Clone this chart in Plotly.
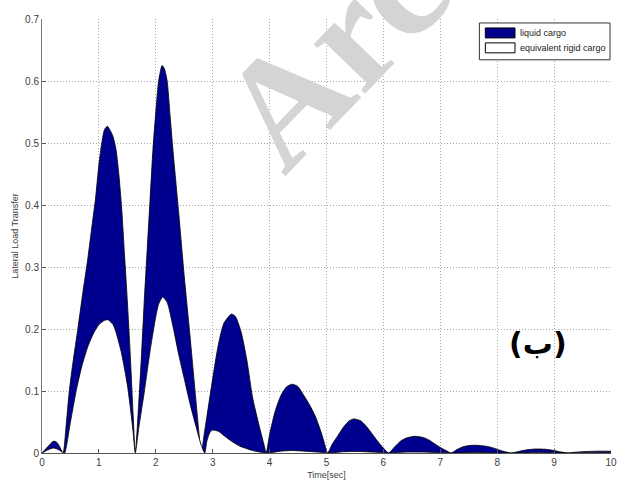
import plotly.graph_objects as go

# Lateral load transfer time histories (values per sample time, seconds)
t_liquid = [0.0, 0.1, 0.2, 0.25, 0.3, 0.37,
            0.42, 0.48, 0.55, 0.63, 0.72, 0.80, 0.87, 0.94, 1.0, 1.05, 1.1, 1.15,
            1.2, 1.25, 1.3, 1.35, 1.4, 1.45, 1.5, 1.55, 1.6, 1.64,
            1.7, 1.75, 1.8, 1.85, 1.9, 1.95, 2.0, 2.05, 2.11, 2.15, 2.2, 2.25,
            2.3, 2.4, 2.5, 2.6, 2.7, 2.75, 2.80,
            2.85, 2.9, 3.0, 3.1, 3.2, 3.33, 3.4, 3.5, 3.6, 3.7, 3.8, 3.9, 3.94,
            4.0, 4.1, 4.2, 4.3, 4.4, 4.5, 4.6, 4.7, 4.8, 4.9, 4.95, 5.02,
            5.1, 5.2, 5.3, 5.4, 5.48, 5.6, 5.7, 5.8, 5.9, 6.0, 6.09,
            6.2, 6.3, 6.4, 6.55, 6.7, 6.8, 6.9, 7.0, 7.1, 7.19,
            7.3, 7.4, 7.5, 7.62, 7.8, 7.9, 8.0, 8.1, 8.25,
            8.4, 8.55, 8.69, 8.85, 9.0, 9.1, 9.25,
            9.4, 9.6, 9.8, 10.0]
llt_liquid = [0.0, 0.010, 0.019, 0.018, 0.012, 0.0,
              0.04, 0.10, 0.15, 0.20, 0.26, 0.31, 0.36, 0.41, 0.465, 0.50, 0.522, 0.527,
              0.52, 0.51, 0.49, 0.45, 0.395, 0.32, 0.245, 0.16, 0.065, 0.0,
              0.08, 0.16, 0.25, 0.33, 0.41, 0.49, 0.55, 0.60, 0.625, 0.62, 0.60, 0.545,
              0.49, 0.39, 0.285, 0.19, 0.09, 0.04, 0.0,
              0.03, 0.06, 0.12, 0.175, 0.21, 0.224, 0.22, 0.195, 0.15, 0.09, 0.05, 0.014, 0.0,
              0.03, 0.068, 0.093, 0.107, 0.111, 0.107, 0.093, 0.078, 0.06, 0.035, 0.02, 0.0,
              0.014, 0.028, 0.042, 0.052, 0.055, 0.052, 0.043, 0.031, 0.019, 0.008, 0.0,
              0.010, 0.019, 0.024, 0.027, 0.025, 0.021, 0.015, 0.009, 0.004, 0.0,
              0.006, 0.010, 0.012, 0.0125, 0.011, 0.009, 0.006, 0.003, 0.0,
              0.003, 0.0055, 0.0065, 0.006, 0.004, 0.002, 0.0,
              0.0015, 0.0025, 0.003, 0.0028]

t_rigid = [0.0, 0.1, 0.2, 0.3, 0.38,
           0.40, 0.5, 0.6, 0.7, 0.8, 0.9, 1.0, 1.1, 1.16, 1.25, 1.3, 1.4, 1.5, 1.55, 1.6, 1.64,
           1.7, 1.8, 1.9, 2.0, 2.05, 2.12, 2.2, 2.3, 2.4, 2.5, 2.6, 2.7, 2.8, 2.86,
           2.9, 2.95, 3.0, 3.1, 3.2, 3.3, 3.4, 3.5, 3.6, 3.7, 3.8, 3.95,
           4.2, 4.4, 4.6, 4.85, 5.05, 5.3, 5.55, 5.8, 6.1, 6.4, 6.7, 7.2,
           7.6, 8.25, 8.7, 9.25, 9.7, 10.0]
llt_rigid = [0.0, 0.005, 0.008, 0.005, 0.0,
             0.0, 0.05, 0.10, 0.14, 0.17, 0.192, 0.207, 0.214, 0.215, 0.207, 0.195, 0.16, 0.11, 0.075, 0.035, 0.0,
             0.04, 0.10, 0.165, 0.22, 0.24, 0.2515, 0.243, 0.205, 0.16, 0.12, 0.08, 0.045, 0.012, 0.0,
             0.02, 0.033, 0.037, 0.035, 0.028, 0.021, 0.015, 0.010, 0.007, 0.004, 0.002, 0.0,
             0.003, 0.004, 0.003, 0.0015, 0.0, 0.002, 0.0025, 0.0015, 0.0, 0.0015, 0.0015, 0.0,
             0.001, 0.0, 0.001, 0.0, 0.0008, 0.0005]

x_ticks = list(range(0, 11))
y_ticks = [0, 0.1, 0.2, 0.3, 0.4, 0.5, 0.6, 0.7]
y_tick_text = ["0", "0.1", "0.2", "0.3", "0.4", "0.5", "0.6", "0.7"]

series_names = ["liquid cargo", "equivalent rigid cargo"]
series_fills = ["#00008F", "white"]

W, H = 624, 485
ML, MR, MT, MB = 42, 7, 19, 30
PW, PH = W - ML - MR, H - MT - MB


def px_x(px):
    """Pixel column -> paper x coordinate."""
    return (px - ML) / PW


def px_y(py):
    """Pixel row (from top) -> paper y coordinate."""
    return (H - MB - py) / PH


fig = go.Figure()
for t, v, name, fc in [(t_liquid, llt_liquid, series_names[0], series_fills[0]),
                       (t_rigid, llt_rigid, series_names[1], series_fills[1])]:
    fig.add_trace(go.Scatter(
        x=t, y=v, name=name, mode="lines", showlegend=False,
        line=dict(color="black", width=0.8, shape="spline", smoothing=0.6),
        fill="tozeroy", fillcolor=fc))

axis_font = dict(family="Liberation Sans, Arial, sans-serif", size=10, color="#404040")
grid = dict(showgrid=True, gridcolor="#a8a8a8", griddash="1px,2px", gridwidth=1)

fig.update_xaxes(
    range=[0, 10], tickvals=x_ticks, ticks="inside", ticklen=4, tickcolor="#555",
    showline=True, linecolor="#555", linewidth=1, mirror=False,
    zeroline=False, tickfont=axis_font, ticklabeloverflow="allow",
    title=dict(text="Time[sec]", font=dict(family="Liberation Sans, Arial", size=9, color="#404040"),
               standoff=4),
    **grid)
fig.update_yaxes(
    range=[0, 0.7], tickvals=y_ticks, ticktext=y_tick_text, ticks="inside", ticklen=4,
    tickcolor="#555", showline=True, linecolor="#777", linewidth=1, mirror=False,
    zeroline=False, tickfont=axis_font,
    title=dict(text="Lateral Load Transfer", font=dict(family="Liberation Sans, Arial", size=9, color="#404040"),
               standoff=4),
    **grid)

# Legend box drawn with shapes so the swatches are plain rectangles
legend_box = [484, 23, 616, 60]
swatch_rows = [(28, 38, 33.3), (43, 53, 48.3)]
shapes = [dict(type="rect", xref="paper", yref="paper",
               x0=px_x(legend_box[0]), x1=px_x(legend_box[2]),
               y0=px_y(legend_box[3]), y1=px_y(legend_box[1]),
               fillcolor="white", line=dict(color="#333", width=1), layer="above")]
annotations = []
for (top, bot, mid), name, fc in zip(swatch_rows, series_names, series_fills):
    shapes.append(dict(type="rect", xref="paper", yref="paper",
                       x0=px_x(490), x1=px_x(520), y0=px_y(bot), y1=px_y(top),
                       fillcolor=fc, line=dict(color="black", width=1), layer="above"))
    annotations.append(dict(text=name, xref="paper", yref="paper", x=px_x(523), y=px_y(mid),
                            xanchor="left", yanchor="middle", showarrow=False,
                            font=dict(family="Liberation Sans, Arial", size=9, color="#222")))

# faint diagonal watermark
annotations.append(dict(text="<b>Arc</b>", xref="paper", yref="paper", x=px_x(336), y=px_y(52),
                        showarrow=False, textangle=-46, xanchor="center", yanchor="middle",
                        font=dict(family="Liberation Serif, serif", size=155, color="#d4d4d4")))
# panel label
annotations.append(dict(text="<b>(ب)</b>", x=8.72, y=0.177, xref="x", yref="y", showarrow=False,
                        font=dict(family="DejaVu Sans, sans-serif", size=30, color="black"),
                        xanchor="center", yanchor="middle"))

fig.update_layout(
    width=W, height=H,
    margin=dict(l=ML, r=MR, t=MT, b=MB),
    paper_bgcolor="white", plot_bgcolor="white",
    showlegend=False,
    shapes=shapes,
    annotations=annotations,
)

fig.write_html("out.html")
